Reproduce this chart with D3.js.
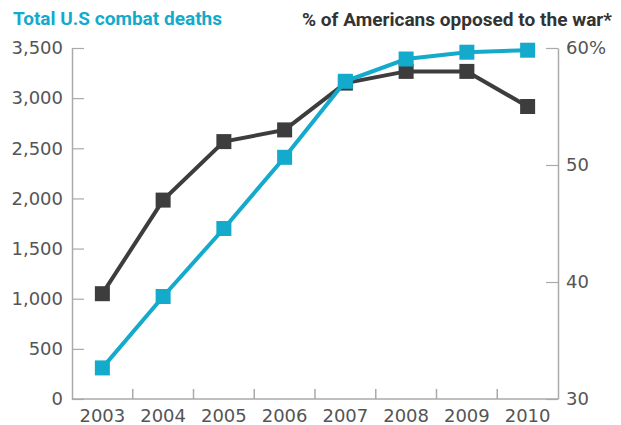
<!DOCTYPE html>
<html>
<head>
    <script src="https://d3js.org/d3.v7.min.js"></script>
    <style>
        body {
            margin: 0;
            background-color: white;
        }

        .tick text {
            font-family: "DejaVu Sans", sans-serif;
            font-size: 18px;
            fill: #555;
        }

        .title {
            font-family: Roboto, "DejaVu Sans", sans-serif;
            font-weight: bold;
            font-size: 18px;
        }
    </style>
</head>
<body>
    <div id="graph"></div>
    <script>
        const years = ['2003', '2004', '2005', '2006', '2007', '2008', '2009', '2010']
        const deaths = [310, 1022, 1700, 2410, 3168, 3390, 3458, 3478]
        const opposed = [39, 47, 52, 53, 57, 58, 58, 55]
        const deathTicks = [0, 500, 1000, 1500, 2000, 2500, 3000, 3500]
        const opposedTicks = [30, 40, 50, 60]

        const w = 621
        const h = 425
        const plotLeft = 72
        const plotRight = 558
        const plotTop = 48
        const plotBottom = 399

        const blue = '#13aacb'
        const dark = '#3d3d3d'
        const axisColor = '#aaa'

        const svg = d3.select('#graph')
            .append('svg')
            .attr('width', w)
            .attr('height', h)
            .style('display', 'block')

        const xScale = d3.scaleBand()
            .domain(years)
            .range([plotLeft, plotRight])
        const yLeft = d3.scaleLinear()
            .domain([0, 3500])
            .range([plotBottom, plotTop])
        const yRight = d3.scaleLinear()
            .domain([30, 60])
            .range([plotBottom, plotTop])
        const cx = d => xScale(d) + xScale.bandwidth() / 2

        // axes
        const leftAxis = svg.append('g')
            .attr('transform', `translate(${plotLeft}, 0)`)
            .call(d3.axisLeft(yLeft)
                .tickValues(deathTicks)
                .tickFormat(d3.format(','))
                .tickSize(-12)
                .tickSizeOuter(0)
                .tickPadding(9))
        const rightAxis = svg.append('g')
            .attr('transform', `translate(${plotRight}, 0)`)
            .call(d3.axisRight(yRight)
                .tickValues(opposedTicks)
                .tickFormat(d => d === 60 ? d + '%' : d)
                .tickSize(-12)
                .tickSizeOuter(0)
                .tickPadding(8))
        const bottomAxis = svg.append('g')
            .attr('transform', `translate(0, ${plotBottom})`)
            .call(d3.axisBottom(xScale)
                .tickSize(0)
                .tickPadding(10))

        bottomAxis.select('.domain').remove()
        bottomAxis.selectAll('.tick')
            .filter(d => d !== years[0])
            .append('line')
            .attr('x1', -xScale.bandwidth() / 2)
            .attr('x2', -xScale.bandwidth() / 2)
            .attr('y1', 0)
            .attr('y2', -10)
        bottomAxis.append('line')
            .attr('x1', plotLeft)
            .attr('x2', plotRight)

        svg.selectAll('.domain, .tick line, g > line')
            .attr('stroke', axisColor)
            .attr('stroke-width', 1.5)
        leftAxis.selectAll('.tick line').attr('stroke-width', 1.2)
        rightAxis.selectAll('.tick line').attr('stroke-width', 1.2)
        svg.selectAll('.tick text').attr('fill', '#555')

        // series
        function drawSeries(values, yScale, color) {
            const line = d3.line()
                .x((d, i) => cx(years[i]))
                .y(d => yScale(d))
            svg.append('path')
                .datum(values)
                .attr('d', line)
                .attr('fill', 'none')
                .attr('stroke', color)
                .attr('stroke-width', 4)
            svg.append('g')
                .selectAll('rect')
                .data(values)
                .enter()
                .append('rect')
                .attr('x', (d, i) => cx(years[i]) - 7.5)
                .attr('y', d => yScale(d) - 7.5)
                .attr('width', 15)
                .attr('height', 15)
                .attr('fill', color)
        }
        drawSeries(opposed, yRight, dark)
        drawSeries(deaths, yLeft, blue)

        // titles
        svg.append('text')
            .attr('class', 'title')
            .attr('x', 13)
            .attr('y', 25)
            .attr('textLength', 209)
            .attr('lengthAdjust', 'spacingAndGlyphs')
            .attr('fill', blue)
            .text('Total U.S combat deaths')
        svg.append('text')
            .attr('class', 'title')
            .attr('x', 302)
            .attr('y', 26)
            .attr('textLength', 310)
            .attr('lengthAdjust', 'spacingAndGlyphs')
            .attr('fill', '#333')
            .text('% of Americans opposed to the war*')
    </script>
</body>
</html>
